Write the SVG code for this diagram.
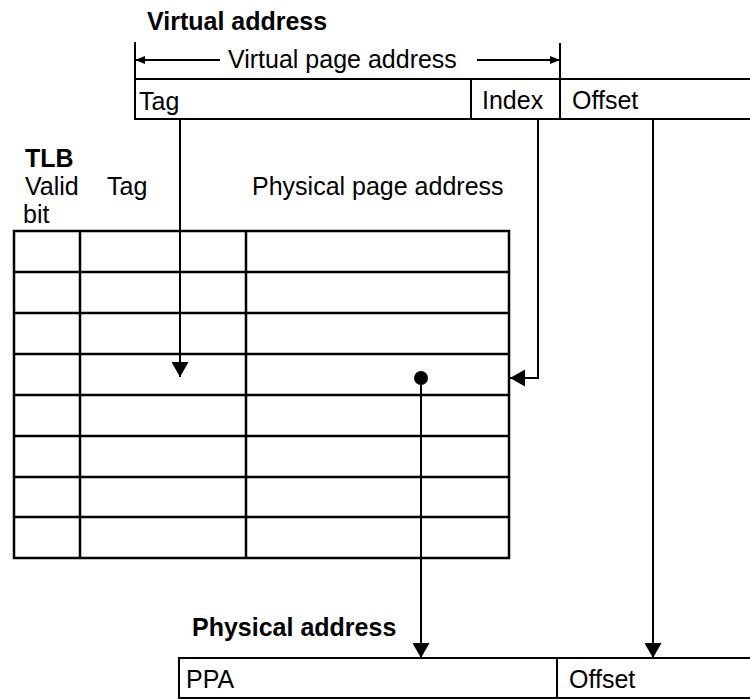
<svg xmlns="http://www.w3.org/2000/svg" width="750" height="699" viewBox="0 0 750 699">
<style>
text{font-family:"Liberation Sans",Arial,sans-serif;font-size:25px;fill:#000}
.b{font-weight:bold}
.ln{stroke:#000;stroke-width:2;fill:none}
.tb{stroke:#000;stroke-width:2.5;fill:none}
</style>
<defs>
<marker id="ah" viewBox="0 0 15 17" refX="15" refY="8.5" markerWidth="15" markerHeight="17" markerUnits="userSpaceOnUse" orient="auto">
<path d="M0,0 L15,8.5 L0,17 Z" fill="#000"/>
</marker>
<marker id="sa" viewBox="0 0 10 8" refX="10" refY="4" markerWidth="10" markerHeight="8" markerUnits="userSpaceOnUse" orient="auto">
<path d="M0,0 L10,4 L0,8 Z" fill="#000"/>
</marker>
</defs>
<rect width="750" height="699" fill="#fff"/>

<g id="virtual-address">
<text class="b" x="147" y="30">Virtual address</text>
<line class="ln" x1="135" y1="42" x2="135" y2="79"/>
<line class="ln" x1="560" y1="43" x2="560" y2="79"/>
<text x="228" y="68">Virtual page address</text>
<path d="M135,79 H750 M135,79 V119 H750 M471,79 V119 M560,79 V119" class="ln"/>
<text x="139" y="110">Tag</text>
<text x="482" y="109">Index</text>
<text x="572" y="109">Offset</text>
</g>

<g id="tlb">
<text class="b" x="25" y="167">TLB</text>
<text x="25" y="195">Valid</text>
<text x="23" y="223">bit</text>
<text x="107" y="195">Tag</text>
<text x="252" y="195">Physical page address</text>
<rect class="tb" x="14" y="231" width="495" height="327"/>
<path class="tb" d="M14,272 H509 M14,313 H509 M14,354 H509 M14,395 H509 M14,436 H509 M14,477 H509 M14,517 H509 M80,231 V558 M246,231 V558"/>
</g>

<g id="physical-address">
<text class="b" x="192" y="636">Physical address</text>
<path class="ln" d="M750,658 H179 V698 H750 M557,658 V698"/>
<text x="186" y="688">PPA</text>
<text x="569" y="688">Offset</text>
</g>

<g id="connectors">
<line class="ln" x1="220" y1="60" x2="135" y2="60" marker-end="url(#sa)"/>
<line class="ln" x1="477" y1="60" x2="560" y2="60" marker-end="url(#sa)"/>
<line class="ln" x1="180" y1="119" x2="180" y2="377" marker-end="url(#ah)"/>
<polyline class="ln" points="538,119 538,378 510,378" marker-end="url(#ah)"/>
<circle cx="421" cy="378" r="7" fill="#000"/>
<line class="ln" x1="421" y1="378" x2="421" y2="658" marker-end="url(#ah)"/>
<line class="ln" x1="653" y1="119" x2="653" y2="658" marker-end="url(#ah)"/>
</g>
</svg>
